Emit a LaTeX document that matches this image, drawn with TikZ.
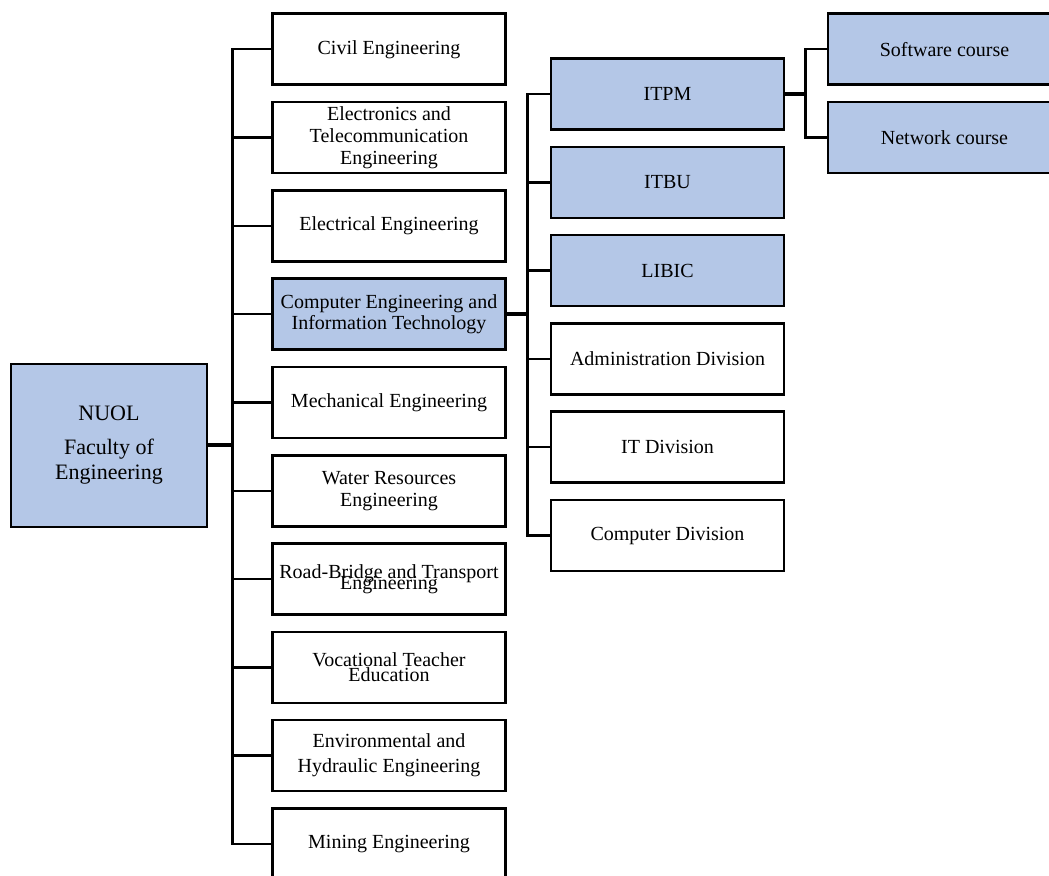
\documentclass[tikz,border=0pt]{standalone}
\usepackage{fontspec}
\setmainfont{Liberation Serif}
\definecolor{unitfill}{RGB}{180,199,231}

\begin{document}
\begin{tikzpicture}[line join=miter,
  unit/.style={draw=black,line width=2.6bp,minimum width=233bp,minimum height=71bp,inner sep=0pt,align=center,font=\fontsize{20bp}{21.7bp}\selectfont},
  plain/.style={unit,fill=white},
  hilite/.style={unit,fill=unitfill},
  link/.style={line width=2.4bp},
  bus/.style={line width=4bp}]
\clip (0bp,0bp) rectangle (1049bp,876bp);
%%
  % Node: NUOL
  \node[hilite,minimum width=196bp,minimum height=163bp,font=\fontsize{22bp}{25.3bp}\selectfont] (nuol) at (109bp,430.5bp) {NUOL\\[8.4bp]Faculty of\\Engineering};
  % Nodes: faculty departments
  \node[plain] (civil) at (389bp,826.7bp) {Civil Engineering};
  \node[plain] (etel) at (389bp,738.4bp) {Electronics and\\Telecommunication\\Engineering};
  \node[plain] (elec) at (389bp,650.1bp) {Electrical Engineering};
  \node[hilite] (ceit) at (389bp,561.8bp) {Computer Engineering and\\Information Technology};
  \node[plain] (mech) at (389bp,473.5bp) {Mechanical Engineering};
  \node[plain] (water) at (389bp,385.2bp) {Water Resources\\Engineering};
  \node[plain] (road) at (389bp,296.9bp) {Road-Bridge and Transport\\[-10.7bp]Engineering};
  \node[plain] (voc) at (389bp,208.6bp) {Vocational Teacher\\[-6.7bp]Education};
  \node[plain] (env) at (389bp,120.3bp) {Environmental and\\[3.3bp]Hydraulic Engineering};
  \node[plain] (mine) at (389bp,32bp) {Mining Engineering};
  % Nodes: CEIT units
  \node[hilite] (itpm) at (667.5bp,781.9bp) {ITPM};
  \node[hilite] (itbu) at (667.5bp,693.6bp) {ITBU};
  \node[hilite] (libic) at (667.5bp,605.3bp) {LIBIC};
  \node[plain] (admin) at (667.5bp,517bp) {Administration Division};
  \node[plain] (itdiv) at (667.5bp,428.7bp) {IT Division};
  \node[plain] (cdiv) at (667.5bp,340.4bp) {Computer Division};
  % Nodes: ITPM courses
  \node[hilite] (soft) at (944.5bp,826.7bp) {Software course};
  \node[hilite] (net) at (944.5bp,738.4bp) {Network course};
%%
  \coordinate (trunkA) at (232.5bp,432bp);
  \coordinate (trunkB) at (527.5bp,561.8bp);
  \coordinate (trunkC) at (805.5bp,781.9bp);
  % Edge: NUOL -> departments
  \draw[bus] (nuol.east) -- (nuol.east -| trunkA);
  \draw[link] (civil.west) -- (civil.west -| trunkA) -- (mine.west -| trunkA) -- (mine.west);
  \draw[link] (etel.west) -- (etel.west -| trunkA);
  \draw[link] (elec.west) -- (elec.west -| trunkA);
  \draw[link] (ceit.west) -- (ceit.west -| trunkA);
  \draw[link] (mech.west) -- (mech.west -| trunkA);
  \draw[link] (water.west) -- (water.west -| trunkA);
  \draw[link] (road.west) -- (road.west -| trunkA);
  \draw[link] (voc.west) -- (voc.west -| trunkA);
  \draw[link] (env.west) -- (env.west -| trunkA);
  % Edge: CEIT -> units
  \draw[bus] (ceit.east) -- (trunkB);
  \draw[link] (itpm.west) -- (itpm.west -| trunkB) -- (cdiv.west -| trunkB) -- (cdiv.west);
  \draw[link] (itbu.west) -- (itbu.west -| trunkB);
  \draw[link] (libic.west) -- (libic.west -| trunkB);
  \draw[link] (admin.west) -- (admin.west -| trunkB);
  \draw[link] (itdiv.west) -- (itdiv.west -| trunkB);
  % Edge: ITPM -> courses
  \draw[bus] (itpm.east) -- (trunkC);
  \draw[link] (soft.west) -- (soft.west -| trunkC) -- (net.west -| trunkC) -- (net.west);
%
\end{tikzpicture}
\end{document}
